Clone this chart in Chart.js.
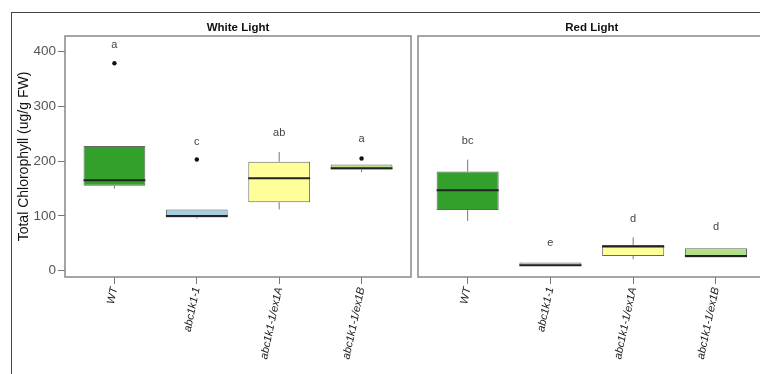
<!DOCTYPE html>
<html>
<head>
<meta charset="utf-8">
<script src="https://cdn.jsdelivr.net/npm/chart.js@4.4.0/dist/chart.umd.min.js"></script>
<style>
html, body { margin: 0; padding: 0; background: #fff; overflow: hidden; width: 760px; height: 374px; }
#frame { position: absolute; left: 11px; top: 12px; width: 760px; height: 400px; border-left: 1px solid #444; border-top: 1px solid #444; }
canvas { position: absolute; top: 0; }
#white { left: 0; }
#red { left: 415px; }
</style>
</head>
<body>
<div id="frame"></div>
<canvas id="white" width="415" height="374"></canvas>
<canvas id="red" width="355" height="374"></canvas>
<script>
const genotypes = ['WT', 'abc1k1-1', 'abc1k1-1/ex1A', 'abc1k1-1/ex1B'];
const boxColors = ['#33a02c', '#a6cee3', '#ffff99', '#b2df8a'];
const yTicks = [0, 100, 200, 300, 400];

// White light
const whiteQ1 = [155, 97, 125, 185];
const whiteMedian = [165, 100, 169, 187];
const whiteQ3 = [228, 112, 199, 194];
const whiteLow = [150, 95, 112, 180];
const whiteHigh = [228, 112, 217, 194];
const whiteOutliers = [379, 203, null, 205];
const whiteLetters = ['a', 'c', 'ab', 'a'];
const whiteLetterY = [413, 236, 251, 240];

// Red light
const redQ1 = [111, 9, 27, 24];
const redMedian = [147, 10, 44, 27];
const redQ3 = [181, 15, 47, 41];
const redLow = [91, 9, 21, 24];
const redHigh = [203, 15, 61, 41];
const redOutliers = [null, null, null, null];
const redLetters = ['bc', 'e', 'd', 'd'];
const redLetterY = [237, 51, 95, 79];

Chart.defaults.font.family = "'Liberation Sans', Arial, sans-serif";

// medians, whiskers, letters and the panel box
const boxExtras = {
    id: 'boxExtras',
    afterDatasetsDraw(chart, args, o) {
        const ctx = chart.ctx;
        const y = chart.scales.y;
        const x = chart.scales.x;
        const meta = chart.getDatasetMeta(0);
        ctx.save();
        meta.data.forEach((bar, i) => {
            const p = bar.getProps(['x', 'width'], true);
            // whiskers
            ctx.strokeStyle = '#777';
            ctx.lineWidth = 1;
            ctx.beginPath();
            ctx.moveTo(p.x, y.getPixelForValue(o.high[i]));
            ctx.lineTo(p.x, y.getPixelForValue(o.q3[i]));
            ctx.moveTo(p.x, y.getPixelForValue(o.q1[i]));
            ctx.lineTo(p.x, y.getPixelForValue(o.low[i]));
            ctx.stroke();
            // median
            const my = y.getPixelForValue(o.median[i]);
            ctx.strokeStyle = '#222';
            ctx.lineWidth = 2;
            ctx.beginPath();
            ctx.moveTo(p.x - p.width / 2, my);
            ctx.lineTo(p.x + p.width / 2, my);
            ctx.stroke();
            // letters
            ctx.fillStyle = '#444';
            ctx.font = "11px 'Liberation Sans', Arial, sans-serif";
            ctx.textAlign = 'center';
            ctx.textBaseline = 'middle';
            ctx.fillText(o.letters[i], x.getPixelForValue(i), y.getPixelForValue(o.letterY[i]));
        });
        const a = chart.chartArea;
        ctx.strokeStyle = '#888';
        ctx.lineWidth = 1.5;
        ctx.strokeRect(a.left, a.top, a.right - a.left, a.bottom - a.top);
        ctx.restore();
    }
};

function makePanel(id, title, q1, median, q3, low, high, outliers, letters, letterY, showY, padLeft, padRight) {
    const outPoints = [];
    outliers.forEach((v, i) => { if (v !== null) outPoints.push({ x: i, y: v }); });

    return new Chart(document.getElementById(id), {
        type: 'bar',
        data: {
            datasets: [{
                data: q1.map((v, i) => ({ x: i, y: [v, q3[i]] })),
                backgroundColor: boxColors,
                borderColor: '#666',
                borderWidth: 1,
                borderSkipped: false,
                barPercentage: 0.75,
                categoryPercentage: 1
            }, {
                type: 'line',
                data: outPoints,
                showLine: false,
                pointRadius: 2.2,
                pointBackgroundColor: '#111',
                pointBorderColor: '#111',
                pointBorderWidth: 0
            }]
        },
        options: {
            responsive: false,
            animation: false,
            layout: { padding: { left: padLeft, right: padRight, top: 0, bottom: 0 } },
            plugins: {
                legend: { display: false },
                tooltip: { enabled: false },
                title: {
                    display: true,
                    text: title,
                    fullSize: false,
                    color: '#111',
                    font: { size: 11.5, weight: 'bold' },
                    padding: { top: 21, bottom: 1.2 }
                },
                boxExtras: { q1, median, q3, low, high, letters, letterY }
            },
            scales: {
                x: {
                    type: 'linear',
                    min: -0.6,
                    max: 3.6,
                    offset: false,
                    afterBuildTicks: s => { s.ticks = genotypes.map((g, i) => ({ value: i })); },
                    afterFit: s => { s.height = 97; },
                    border: { display: false },
                    grid: { drawOnChartArea: false, offset: false, tickLength: 7, color: '#777' },
                    ticks: {
                        callback: v => genotypes[v],
                        autoSkip: false,
                        minRotation: 78,
                        maxRotation: 78,
                        padding: 2,
                        color: '#222',
                        font: { size: 11, style: 'italic' }
                    }
                },
                y: {
                    display: showY,
                    min: -11.5,
                    max: 428.7,
                    afterBuildTicks: s => { s.ticks = yTicks.map(v => ({ value: v })); },
                    afterFit: s => { if (showY) s.width = 65; },
                    border: { display: false },
                    grid: { drawOnChartArea: false, tickLength: 7, color: '#777' },
                    ticks: { padding: 2, color: '#555', font: { size: 13.5 } },
                    title: {
                        display: true,
                        text: 'Total Chlorophyll (ug/g FW)',
                        color: '#111',
                        font: { size: 14 },
                        padding: { top: 16, bottom: 0 }
                    }
                }
            }
        },
        plugins: [boxExtras]
    });
}

makePanel('white', 'White Light', whiteQ1, whiteMedian, whiteQ3, whiteLow, whiteHigh,
    whiteOutliers, whiteLetters, whiteLetterY, true, 0, 3);
makePanel('red', 'Red Light', redQ1, redMedian, redQ3, redLow, redHigh,
    redOutliers, redLetters, redLetterY, false, 3, 4.4);
</script>
</body>
</html>
